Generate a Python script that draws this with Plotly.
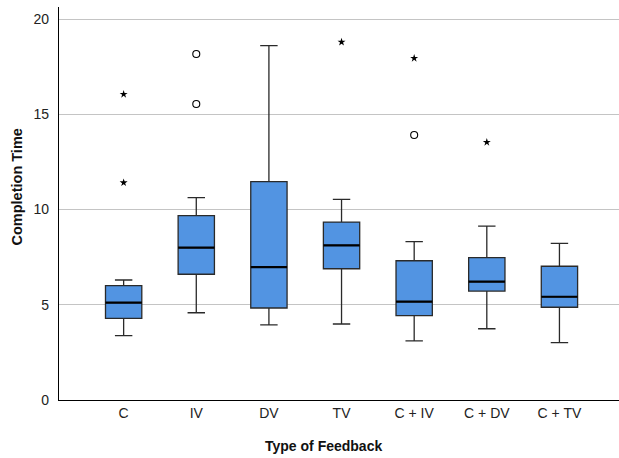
import plotly.graph_objects as go

categories = ["C", "IV", "DV", "TV", "C + IV", "C + DV", "C + TV"]
q1 = [4.29, 6.60, 4.83, 6.89, 4.43, 5.72, 4.87]
median = [5.11, 8.00, 6.97, 8.12, 5.16, 6.21, 5.42]
q3 = [6.00, 9.68, 11.46, 9.34, 7.31, 7.47, 7.02]
lower_whisker = [3.38, 4.58, 3.94, 3.99, 3.10, 3.74, 3.01]
upper_whisker = [6.30, 10.62, 18.60, 10.53, 8.31, 9.13, 8.22]

# outliers: (category index, value)
circle_outliers_cat = [1, 1, 4]
circle_outliers_val = [15.54, 18.16, 13.91]
extreme_outliers_cat = [0, 0, 3, 4, 5]
extreme_outliers_val = [16.05, 11.41, 18.79, 17.94, 13.53]

y_ticks = [0, 5, 10, 15, 20]

pos = list(range(len(categories)))
box_w = 0.5

fig = go.Figure()
fig.add_trace(go.Box(
    x=pos, q1=q1, median=median, q3=q3,
    lowerfence=lower_whisker, upperfence=upper_whisker,
    width=box_w, whiskerwidth=0.48,
    fillcolor="#5294E2", line=dict(color="#2a2a2a", width=1.3),
    boxpoints=False, showlegend=False, hoverinfo="skip",
))

# thicker median lines
mx, my = [], []
for p, m in zip(pos, median):
    mx += [p - box_w / 2, p + box_w / 2, None]
    my += [m, m, None]
fig.add_trace(go.Scatter(x=mx, y=my, mode="lines",
                         line=dict(color="black", width=2.2),
                         showlegend=False, hoverinfo="skip"))

fig.add_trace(go.Scatter(x=circle_outliers_cat, y=circle_outliers_val, mode="markers",
                         marker=dict(symbol="circle-open", size=7,
                                     line=dict(color="black", width=1.1), color="black"),
                         showlegend=False, hoverinfo="skip"))
fig.add_trace(go.Scatter(x=extreme_outliers_cat, y=extreme_outliers_val, mode="markers",
                         marker=dict(symbol="star", size=6, color="black",
                                     line=dict(width=0)),
                         showlegend=False, hoverinfo="skip"))

font_family = "Liberation Sans, Arial, sans-serif"
fig.update_layout(
    width=619, height=458,
    margin=dict(l=59, r=0, t=7, b=58),
    paper_bgcolor="white", plot_bgcolor="white",
    font=dict(family=font_family, size=14, color="#222"),
    xaxis=dict(range=[-0.89, 6.82], tickvals=pos, ticktext=categories,
               showgrid=False, zeroline=False, showline=True,
               linecolor="black", linewidth=1.3, ticks="",
               tickfont=dict(size=14, color="#222")),
    yaxis=dict(range=[0, 20.63], tickvals=y_ticks,
               showgrid=True, gridcolor="#c4c4c4", gridwidth=1,
               zeroline=False, showline=True, linecolor="black", linewidth=1.3,
               ticks="", ticklabelstandoff=6,
               tickfont=dict(size=14, color="#222")),
    annotations=[
        dict(text="<b>Completion Time</b>", xref="paper", yref="paper",
             x=-43 / 560, y=(400 - 187.5) / 393, textangle=-90, showarrow=False,
             xanchor="center", yanchor="middle", font=dict(size=14.5, color="#111")),
        dict(text="<b>Type of Feedback</b>", xref="paper", yref="paper",
             x=(323 - 59) / 560, y=(400 - 446) / 393, showarrow=False,
             xanchor="center", yanchor="middle", font=dict(size=14, color="#111")),
    ],
)

fig.write_html("out.html")
